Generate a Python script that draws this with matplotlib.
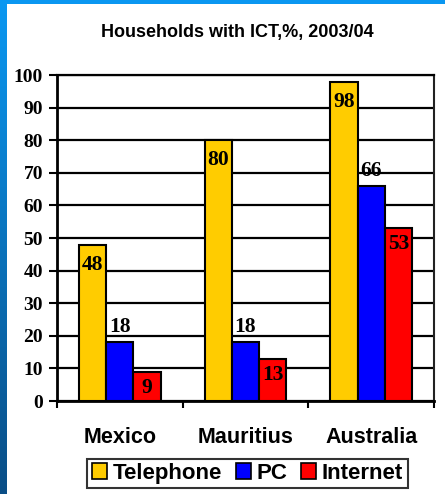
import numpy as np
import matplotlib
matplotlib.use("Agg")
import matplotlib.pyplot as plt
from matplotlib.patches import Rectangle, Patch
from matplotlib.colors import LinearSegmentedColormap

categories = ["Mexico", "Mauritius", "Australia"]
series_names = ["Telephone", "PC", "Internet"]
telephone = [48, 80, 98]
pc = [18, 18, 66]
internet = [9, 13, 53]
yticks = [0, 10, 20, 30, 40, 50, 60, 70, 80, 90, 100]
title = "Households with ICT,%, 2003/04"

colors = ["#FFCC00", "#0000FF", "#FF0000"]
label_offsets = [-20, 15, -16]  # px offsets from bar top (negative = inside)

W, H = 445, 494
fig = plt.figure(figsize=(W / 100, H / 100), dpi=100)

# background: blue gradient frame + white panel
bg = fig.add_axes([0, 0, 1, 1], zorder=-10)
bg.set_axis_off()
grad = np.linspace(0, 1, 256).reshape(-1, 1)
cmap = LinearSegmentedColormap.from_list("b", ["#0A98F2", "#0A4E86"])
bg.imshow(grad, aspect="auto", cmap=cmap, extent=[0, 1, 0, 1], origin="upper")
bg.add_patch(Rectangle((7 / W, 0), 1, 1 - 4 / H, transform=bg.transAxes,
                       facecolor="white", edgecolor="none"))
bg.set_xlim(0, 1)
bg.set_ylim(0, 1)

ax = fig.add_axes([57 / W, 1 - 401 / H, (434 - 57) / W, (401 - 75) / H])
ax.set_facecolor("white")

x = np.arange(len(categories))
bw = 0.217
serif = ["Liberation Serif", "DejaVu Serif"]
sans = ["Liberation Sans", "DejaVu Sans"]

for i, (vals, c) in enumerate(zip([telephone, pc, internet], colors)):
    pos = x + (i - 1) * bw
    ax.bar(pos, vals, width=bw, color=c, edgecolor="black", linewidth=1.5, zorder=3)
    for p, v in zip(pos, vals):
        ax.annotate(str(v), (p, v), xytext=(0, label_offsets[i] * 0.72),
                    textcoords="offset points", ha="center", va="center",
                    fontsize=15.5, fontweight="bold", family=serif, zorder=5)

ax.set_ylim(0, 100)
ax.set_xlim(-0.5, 2.5)
ax.set_yticks(yticks)
ax.set_yticklabels([str(t) for t in yticks], fontsize=14, fontweight="bold", family=serif)
ax.yaxis.grid(True, color="black", linewidth=1.6, zorder=0)
ax.set_axisbelow(True)

ax.set_xticks([-0.5, 0.5, 1.5, 2.5])
ax.set_xticklabels([])
ax.set_xticks(x, minor=True)
ax.set_xticklabels(categories, minor=True, fontsize=15.5, fontweight="bold", family=sans)
ax.tick_params(axis="x", which="minor", length=0, pad=19)
ax.tick_params(axis="x", which="major", length=5, width=1.5, direction="out")
ax.tick_params(axis="y", length=6, width=1.5, pad=4, direction="out")

for s in ["left", "bottom"]:
    ax.spines[s].set_linewidth(2)
    ax.spines[s].set_color("black")
ax.spines["top"].set_linewidth(1.6)
ax.spines["right"].set_linewidth(1.5)
ax.spines["right"].set_color("#222222")

fig.text(237 / W, 1 - 33 / H, title, ha="center", va="center",
         fontsize=13, fontweight="bold", family=sans)

handles = [Patch(facecolor=c, edgecolor="black", linewidth=1.2) for c in colors]
leg = fig.legend(handles, series_names, loc="center", bbox_to_anchor=(247.5 / W, 1 - 473.5 / H),
                 ncol=3, frameon=True, fancybox=False, edgecolor="black",
                 prop={"family": sans, "weight": "bold", "size": 16},
                 handlelength=0.7, handleheight=0.7, handletextpad=0.25,
                 columnspacing=0.6, borderpad=0.2, borderaxespad=0)
leg.get_frame().set_linewidth(1.5)

fig.savefig("out.png", dpi=100)
